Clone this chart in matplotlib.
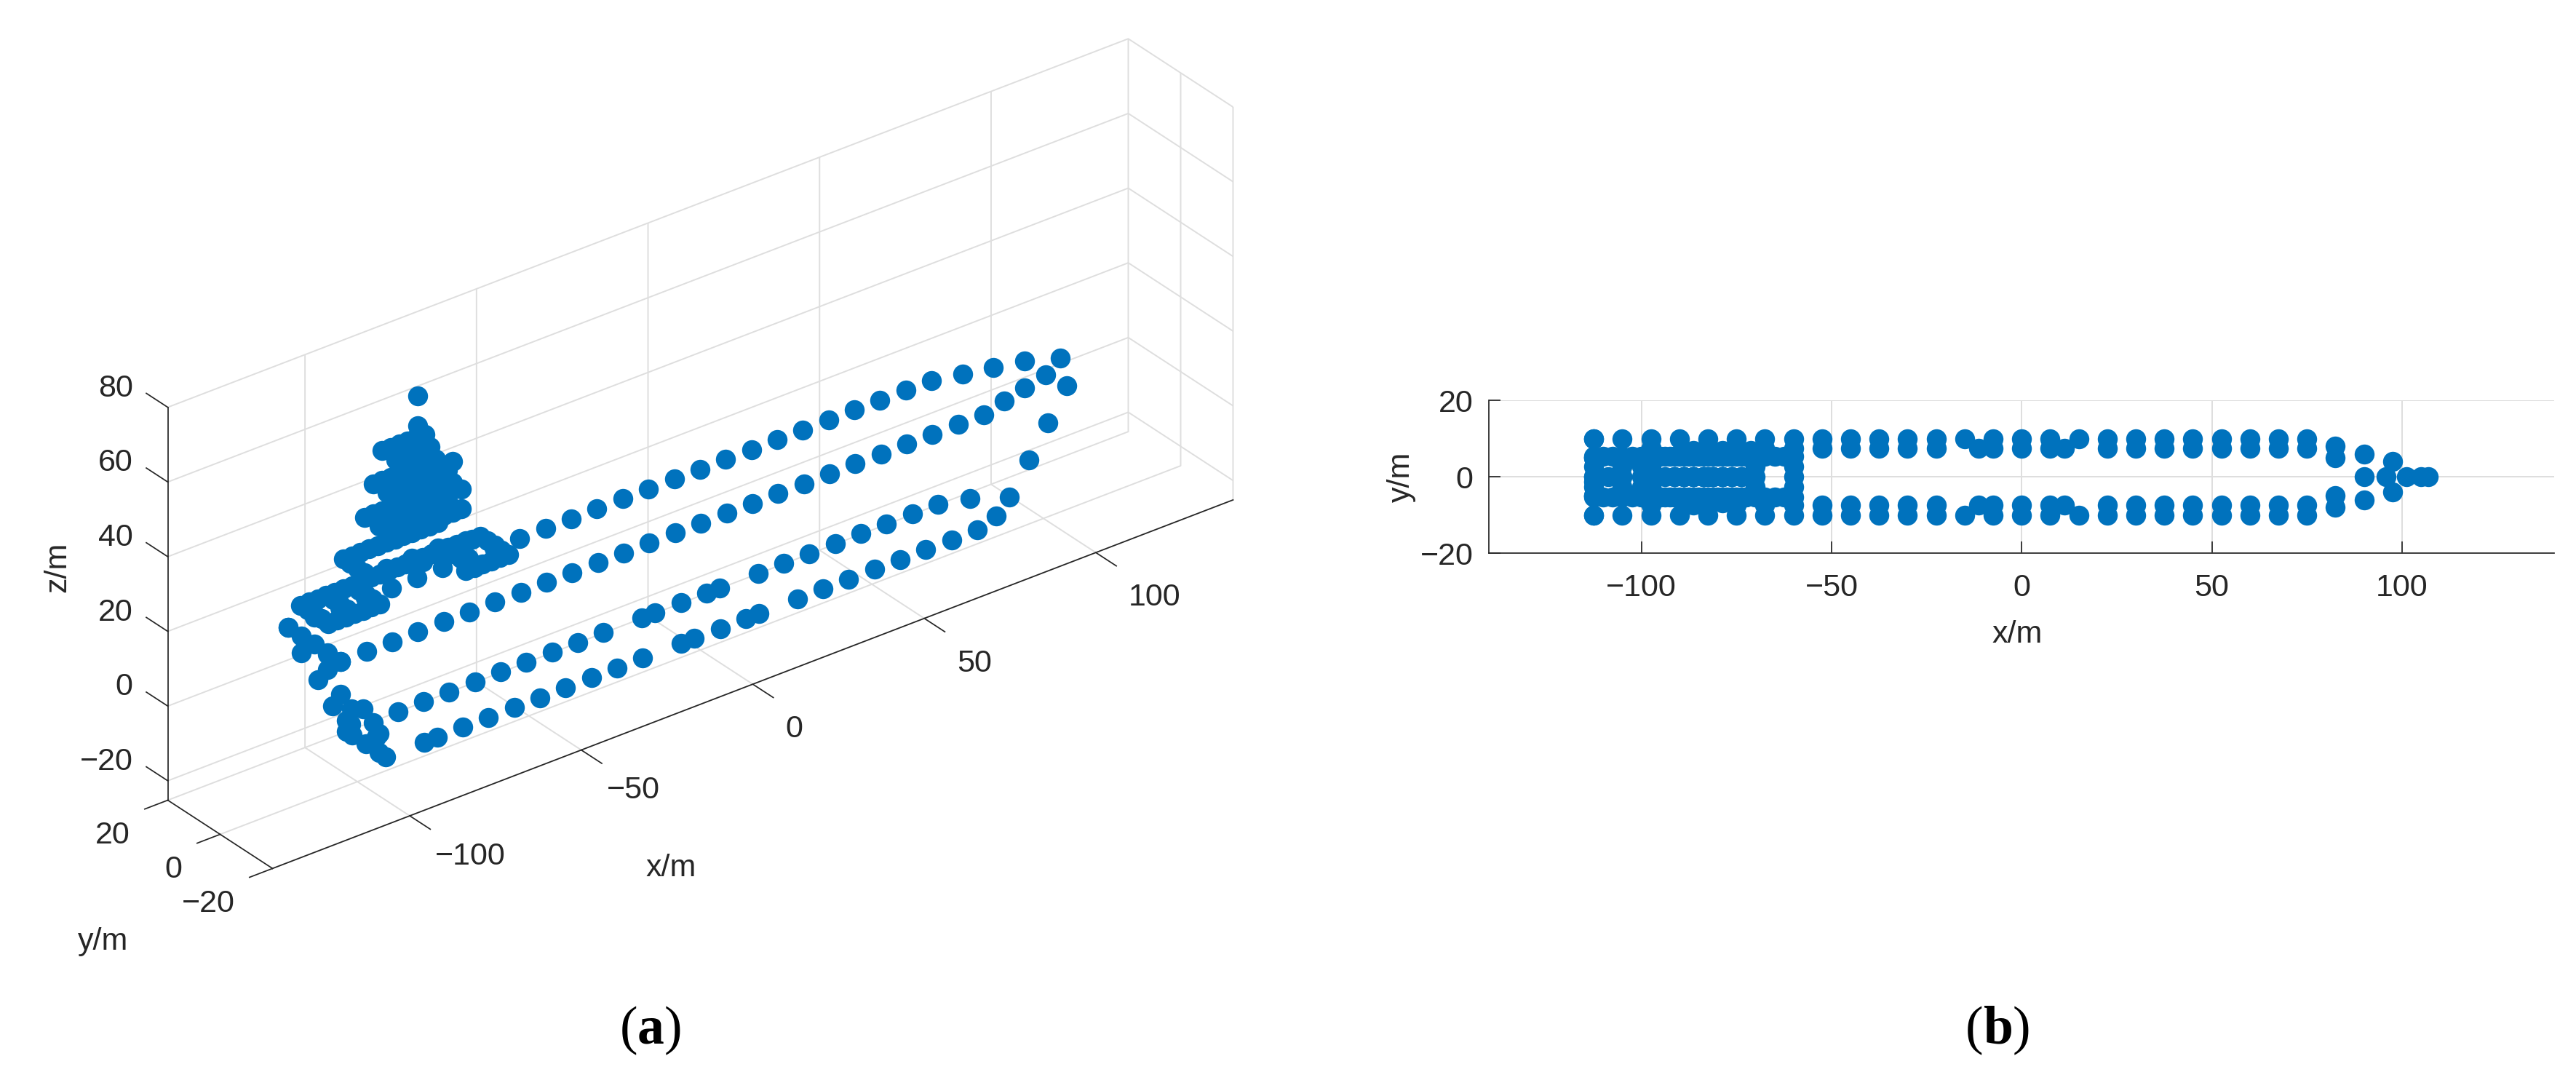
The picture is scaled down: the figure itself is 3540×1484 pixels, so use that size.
import numpy as np
import matplotlib
matplotlib.use("Agg")
import matplotlib.pyplot as plt
from matplotlib.ticker import NullFormatter
from mpl_toolkits.mplot3d import proj3d

plt.rcParams["font.family"] = ["Liberation Sans", "DejaVu Sans"]
plt.rcParams["grid.color"] = "#dedede"
plt.rcParams["grid.linewidth"] = 1.4
plt.rcParams["xtick.major.width"] = 1.25
plt.rcParams["ytick.major.width"] = 1.25

W, H = 3541, 1484
BLUE = "#0072BD"
DARK = "#262626"
FS = 31

# hull stations along the ship
deck_x = [-112.5, -105, -97.5, -90, -82.5, -75, -67.5, -60, -52.5, -45, -37.5, -30, -22.5,
          -15, -7.5, 0, 7.5, 15, 22.5, 30, 37.5, 45, 52.5, 60, 67.5, 75]
keel_x = [-82.5, -75, -67.5, -60, -52.5, -45, -37.5, -30, -22.5, -11.25, -7.5, 0, 7.5,
          11.25, 22.5, 30, 37.5, 45, 52.5, 60, 67.5, 75]

# bow and stem points
bow_x = [82.5, 82.5, 90, 90, 97.5, 97.5, 105, 82.5, 82.5, 90, 95.75, 101.25, 106.9]
bow_y = [8, -8, 6, -6, 4, -4, 0, 5, -5, 0, 0, 0, 0]
bow_z = [16, 16, 16, 16, 16, 16, 16, -16, -16, -16, -8, 0, 8]

# transom and stern section
stern_x = [-112.5, -112.5, -112.5, -112.5, -112.5, -112.5, -112.5, -112.5, -108.75, -105, -105,
           -97.5, -97.5, -97.5, -97.5, -97.5, -97.5, -97.5, -97.5, -97.5, -97.5, -97.5, -97.5, -86.25]
stern_y = [10, 5, 0, -5, -10, 5, -1.25, -5, 0, 0, 3,
           7.5, 5.3, 0, -5, -7.5, -5, -2.7, 1, 5.5, 7.5, 5.9, -3.8, -7.5]
stern_z = [16, 16, 16, 16, 16, 11.4, 7, 11.6, 12, 0, -4.6,
           -16, -16, -16, -16, -16, -11, -9, -7, -9, -13.2, -13.3, -12.5, -16]

# lower platform, z = 24
plat_rows_x = [-112.5, -110, -107.5, -105, -102.5, -100, -97.5]
plat_cols_x = [-112.5, -105, -97.5]
plat_cols_y = [2.67, 0, -2.67]
aft_rows_x = [-72.5, -70, -67.5, -65, -62.5, -60]
aft_cols_x = [-70, -60]
plat_z = 24

# superstructure base, z = 32
base_x = [-100, -97.5, -95, -92.5, -90, -87.5, -85, -82.5, -80, -77.5, -75, -72.5]
base_cap_y = [2.67, 0, -2.67]
base_z = 32
side_x = [-86.25, -78.75, -71.25]

# tower tiers
tier_z = [41, 49, 57]
tier_port_x = [
    [-93.75, -91.25, -88.75, -86.25, -83.75, -81.25, -78.75, -76.25, -73.75],
    [-91.25, -88.75, -86.25, -83.75, -81.25, -78.75, -76.25, -73.75],
    [-88.75, -86.25, -83.75, -81.25, -78.75, -76.25],
]
tier_mid_x = [
    [-93.75, -91.25, -88.75, -86.25, -83.75, -81.25, -78.75, -76.25, -73.75],
    [-91.25, -88.75, -86.25, -83.75, -81.25, -78.75, -76.25, -73.75],
    [-88.75, -86.25, -83.75, -81.25, -78.75],
]
tier_stbd_x = [
    [-93.75, -91.25, -88.75, -86.25, -83.75, -81.25, -78.75, -76.25, -73.75],
    [-91.25, -88.75, -86.25, -83.75, -81.25, -78.75, -76.25],
    [-88.75, -86.25, -83.75, -81.25],
]
tip_x = [-76.25, -73.75]
tip_y = [-5.33, -5.33]
tip_z = [54.6, 46.4]
mast_x = [-82.5, -82.5]
mast_y = [0, 0]
mast_z = [64, 72]

x_ticks = [-100, -50, 0, 50, 100]
y_ticks = [-20, 0, 20]
z_ticks = [-20, 0, 20, 40, 60, 80]
x_labels = ["\u2212100", "\u221250", "0", "50", "100"]
y_labels = ["\u221220", "0", "20"]
z_labels = ["\u221220", "0", "20", "40", "60", "80"]


def grid_points(xs, ys, z):
    gx, gy = np.meshgrid(xs, ys)
    return np.column_stack([gx.ravel(), gy.ravel(), np.full(gx.size, z)])


def ship_points():
    parts = [
        grid_points(deck_x, [10, -10], 16),
        grid_points(keel_x, [7.5, -7.5], -16),
        np.column_stack([bow_x, bow_y, bow_z]),
        np.column_stack([stern_x, stern_y, stern_z]),
        grid_points(plat_rows_x, [5.33, -5.33], plat_z),
        grid_points(plat_cols_x, plat_cols_y, plat_z),
        grid_points(aft_rows_x, [5.33, -5.33], plat_z),
        grid_points(aft_cols_x, plat_cols_y, plat_z),
        grid_points(base_x, [5.33, -5.33], base_z),
        grid_points([-100], base_cap_y, base_z),
        grid_points(side_x, [6.9], plat_z),
        grid_points(side_x[:2], [-6.9], base_z),
        np.column_stack([tip_x, tip_y, tip_z]),
        np.column_stack([mast_x, mast_y, mast_z]),
    ]
    for i, z in enumerate(tier_z):
        parts.append(grid_points(tier_port_x[i], [5.33], z))
        parts.append(grid_points(tier_mid_x[i], [0], z))
        parts.append(grid_points(tier_stbd_x[i], [-5.33], z))
    return np.vstack(parts)


def px_text(fig, x, y, s, **kw):
    fig.text(x / W, 1 - y / H, s, ha="center", va="center", **kw)


def label3d(ax, x, y, z, s, ha):
    # project first, so the label is a plain 2D text on the axes
    px, py, _ = proj3d.proj_transform(x, y, z, ax.get_proj())
    ax.text2D(px, py, s, transform=ax.transData, ha=ha, va="center", fontsize=FS, color=DARK)


def main():
    pts = ship_points()
    fig = plt.figure(figsize=(W / 100, H / 100), dpi=100, facecolor="white")

    # (a) MATLAB default view: az -37.5, el 30
    side = 1740
    ax = fig.add_axes([69 / W, -32.8 / H, side / W, side / H], projection="3d", proj_type="ortho")
    ax.set_facecolor("none")
    ax.view_init(elev=30, azim=-127.5)
    ax.set_box_aspect((1664, 236.5, 623.5))
    ax.scatter(pts[:, 0], pts[:, 1], pts[:, 2], s=390, c=BLUE, linewidths=0, depthshade=False, alpha=1)
    ax.set_xticks(x_ticks)
    ax.set_yticks(y_ticks)
    ax.set_zticks(z_ticks)
    for axis, factor in ((ax.xaxis, -2.45), (ax.yaxis, -0.3), (ax.zaxis, 0)):
        axis.set_major_formatter(NullFormatter())
        axis.set_pane_color((1, 1, 1, 0))
        axis.pane.set_edgecolor("none")
        axis.line.set_color(DARK)
        axis.line.set_linewidth(1.25)
        axis._axinfo["tick"]["inward_factor"] = 0
        axis._axinfo["tick"]["outward_factor"] = factor
    ax.tick_params(axis="both", colors=DARK)

    # z axis sits on the left corner, ticks run along +y
    ax.zaxis.line.set_visible(False)
    ax.plot([-140, -140], [20, 20], [-25.2, 80], color=DARK, lw=1.25)
    for t in z_ticks:
        ax.plot([-140, -140], [20, 28.2], [t, t], color=DARK, lw=1.25)
    ax.set_xlim(-140, 140)
    ax.set_ylim(-20, 20)
    ax.set_zlim(-25.2, 80)

    for t, lab in zip(z_ticks, z_labels):
        label3d(ax, -140, 33.3, t - 1, lab, "right")
    for t, lab in zip(x_ticks, x_labels):
        dy = 9.7 if t < 0 else 12.5
        label3d(ax, t, -20 - dy, -31.6, lab, "left")
    for t, lab in zip(y_ticks, y_labels):
        label3d(ax, -151, t, -30.8, lab, "right")

    px_text(fig, 922, 1193, "x/m", fontsize=FS, color=DARK)
    px_text(fig, 142, 1294, "y/m", fontsize=FS, color=DARK)
    px_text(fig, 79, 779, "z/m", fontsize=FS, color=DARK, rotation=90)

    # (b) top view
    bx = fig.add_axes([2046.5 / W, 1 - 760 / H, (3510 - 2046.5) / W, 210 / H])
    bx.scatter(pts[:, 0], pts[:, 1], s=390, c=BLUE, linewidths=0, zorder=3, clip_on=False)
    bx.set_xlim(-140, 140)
    bx.set_ylim(-20, 20)
    bx.set_xticks(x_ticks, x_labels)
    bx.set_yticks(y_ticks, y_labels)
    bx.grid(True)
    bx.set_axisbelow(True)
    bx.spines["top"].set_visible(False)
    bx.spines["right"].set_visible(False)
    for s in ("left", "bottom"):
        bx.spines[s].set_linewidth(1.25)
        bx.spines[s].set_color(DARK)
    bx.tick_params(direction="in", length=11.5, width=1.25, color=DARK, labelcolor=DARK, labelsize=FS)
    bx.tick_params(axis="x", pad=20)
    bx.tick_params(axis="y", pad=16)
    px_text(fig, 2772, 872, "x/m", fontsize=FS, color=DARK)
    px_text(fig, 1926, 655, "y/m", fontsize=FS, color=DARK, rotation=90)

    serif = ["Liberation Serif", "DejaVu Serif"]
    for cx, letter, adv in ((876, "a", 37), (2725, "b", 41)):
        fig.text(cx / W, 1 - 1416 / H, "(", family=serif, fontsize=53, ha="right", va="center", color="black")
        fig.text(cx / W, 1 - 1416 / H, letter, family=serif, fontsize=53, weight="bold", ha="left", va="center", color="black")
        fig.text((cx + adv) / W, 1 - 1416 / H, ")", family=serif, fontsize=53, ha="left", va="center", color="black")

    fig.savefig("out.png", dpi=100)


if __name__ == "__main__":
    main()
